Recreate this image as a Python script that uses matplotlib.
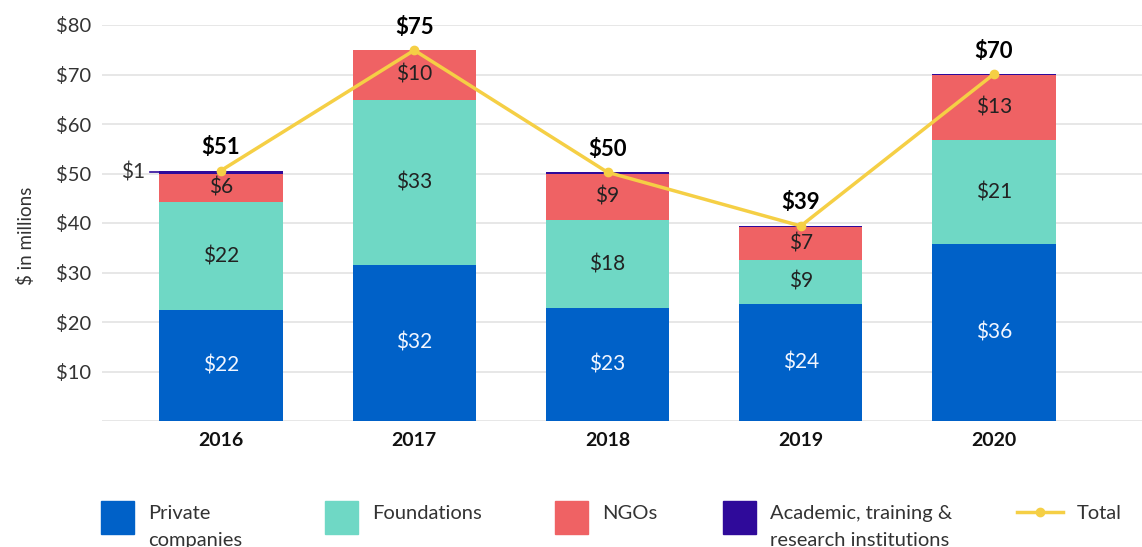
import numpy as np
import matplotlib.pyplot as plt
from matplotlib.patches import Rectangle
from matplotlib.lines import Line2D

plt.rcParams['font.family'] = ['Lato', 'DejaVu Sans']

# data (US$ millions)
years = ['2016', '2017', '2018', '2019', '2020']
private = [22.4, 31.6, 22.8, 23.6, 35.7]
foundations = [21.8, 33.3, 17.8, 9.0, 21.0]
ngos = [5.8, 10.0, 9.4, 6.6, 13.1]
academic = [0.6, 0.0, 0.25, 0.2, 0.3]

series = [
    ('Private\ncompanies', private, '#0061c8', '#f2f6ff'),
    ('Foundations', foundations, '#6fd8c5', '#222222'),
    ('NGOs', ngos, '#ef6264', '#222222'),
    ('Academic, training &\nresearch institutions', academic, '#2f0a9a', None),
]
totals = np.sum([private, foundations, ngos, academic], axis=0)

W, H = 1142, 547
fig = plt.figure(figsize=(W / 100, H / 100), dpi=100)
ax = fig.add_axes([102 / W, 1 - 421 / H, 1 - 102 / W, (421 - 25) / H])

x = np.arange(len(years))
bw = 0.637
bottom = np.zeros(len(years))
for name, vals, col, tcol in series:
    vals = np.array(vals)
    ax.bar(x, vals, bw, bottom=bottom, color=col, edgecolor='none', zorder=2)
    if tcol is not None:
        for xi, b, v in zip(x, bottom, vals):
            ax.text(xi, b + v / 2, '\\$%d' % round(v), ha='center', va='center',
                    fontsize=15, color=tcol, zorder=3)
    bottom += vals

# small academic label on 2016
acad_y = totals[0] - academic[0] / 2
ax.plot([-bw / 2 - 0.05, -bw / 2], [acad_y, acad_y], color='#2f0a9a', lw=1.2, zorder=3)
ax.text(-bw / 2 - 0.075, acad_y, '\\$%d' % round(academic[0]), ha='right', va='center',
        fontsize=15, color='#333333')

ax.plot(x, totals, color='#f5cf45', lw=2.5, marker='o', ms=6, zorder=5)
for xi, t in zip(x, totals):
    ax.annotate('\\$%d' % round(t), (xi, t), xytext=(0, 9), textcoords='offset points',
                ha='center', va='bottom', fontsize=16, fontweight='bold', color='black')

ax.set_xlim(-0.616, 4.766)
ax.set_ylim(0, 80)
ax.set_yticks(range(0, 90, 10))
ax.set_yticklabels([''] + ['\\$%d' % v for v in range(10, 90, 10)], fontsize=14.5, color='#333333')
ax.set_xticks(x)
ax.set_xticklabels(years, fontsize=14, fontweight='bold', color='#111111')
ax.tick_params(axis='y', length=0, pad=8)
ax.tick_params(axis='x', length=0, pad=8)
ax.yaxis.grid(True, color='#e3e3e3', lw=1.2)
ax.set_axisbelow(True)
for s in ax.spines.values():
    s.set_visible(False)

fig.text(26 / W, 1 - 236 / H, '\\$ in millions', rotation=90, ha='center', va='center',
         fontsize=13.5, color='#333333')

# legend drawn by hand along the bottom
leg_x = [101, 325, 555, 723]
for px, (name, vals, col, tcol) in zip(leg_x, series):
    fig.add_artist(Rectangle((px / W, 1 - 534 / H), 33 / W, 33 / H, color=col,
                             transform=fig.transFigure))
    fig.text((px + 47) / W, 1 - 505 / H, name, ha='left', va='top', fontsize=14.5,
             color='#333333', linespacing=1.68)
fig.add_artist(Line2D([1017 / W, 1063 / W], [1 - 512 / H] * 2, color='#f5cf45', lw=2.5,
                      transform=fig.transFigure))
fig.add_artist(Line2D([1040 / W], [1 - 512 / H], color='#f5cf45', marker='o', ms=6,
                      transform=fig.transFigure))
fig.text(1077 / W, 1 - 505 / H, 'Total', ha='left', va='top', fontsize=14.5, color='#333333')

fig.savefig('out.png', dpi=100)
